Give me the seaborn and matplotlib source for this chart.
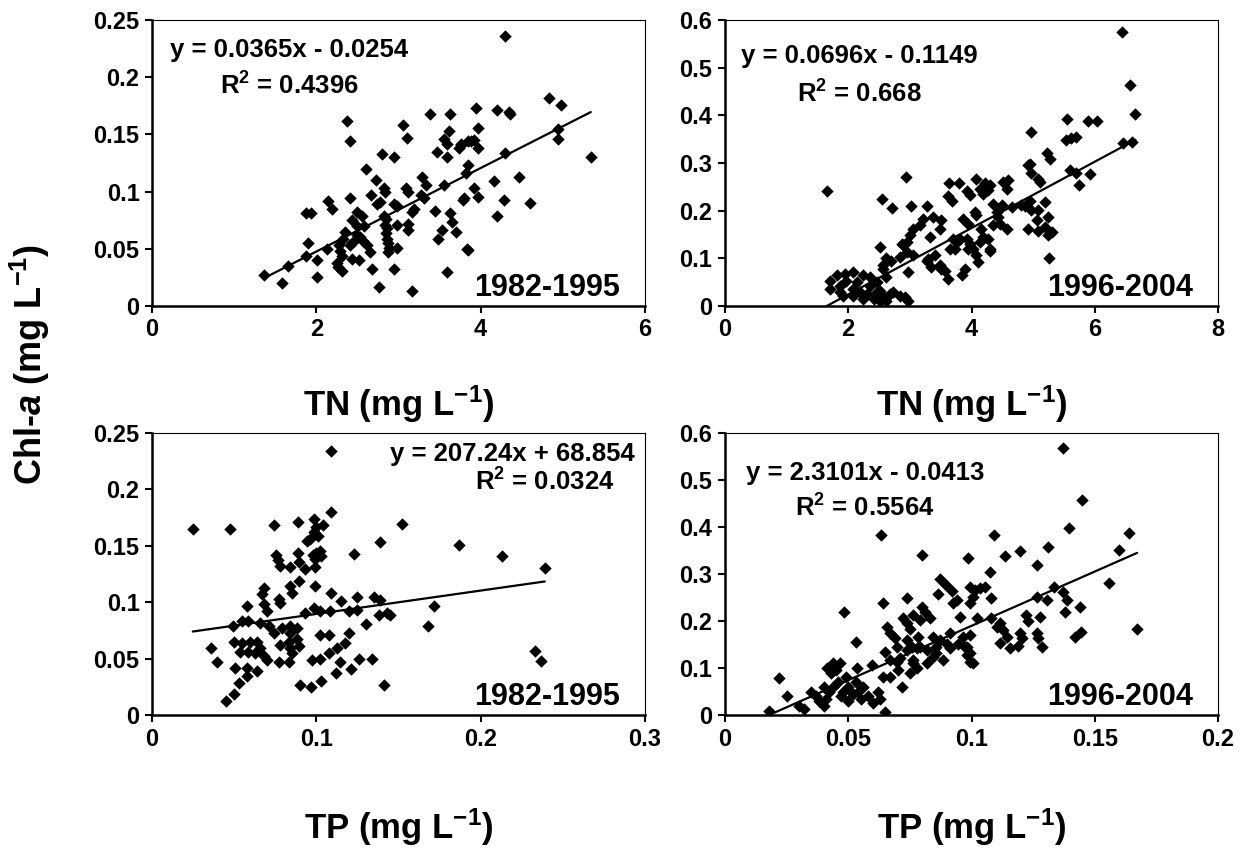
import numpy as np
import matplotlib
matplotlib.use("Agg")
import matplotlib.pyplot as plt
from matplotlib.ticker import FuncFormatter, MultipleLocator
import seaborn as sns

# TN vs Chl-a, 1982-1995
tn_8295 = [2.37, 2.41, 3.38, 3.63, 3.05, 3.10, 3.61, 3.55, 3.59, 3.47, 3.59, 3.76, 3.84, 2.80, 2.95,
           2.61, 2.73, 3.28, 3.33, 3.55, 3.82, 2.82, 2.84, 2.66, 3.09, 3.11, 3.27, 3.31, 2.74, 2.78,
           2.94, 2.98, 2.41, 2.14, 2.19, 1.87, 1.94, 2.50, 2.56, 2.82, 2.85, 2.83, 2.86, 2.85, 2.86,
           2.87, 2.88, 2.87, 3.45, 3.63, 3.65, 3.70, 3.53, 3.48, 3.80, 3.83, 2.98, 3.11, 3.11, 3.17,
           3.19, 2.44, 2.49, 2.58, 2.49, 2.53, 2.57, 2.62, 2.65, 2.45, 2.41, 2.35, 2.33, 2.27, 2.29,
           2.31, 2.13, 1.90, 2.01, 2.25, 2.26, 2.31, 2.44, 2.52, 2.98, 2.68, 2.94, 2.76, 3.16, 3.59,
           1.36, 1.58, 1.66, 1.87, 2.01, 4.30, 4.83, 4.98, 5.34, 4.94, 4.94, 4.20, 4.35, 4.36, 3.94,
           3.97, 3.76, 3.74, 3.88, 3.92, 3.97, 4.30, 4.47, 4.16, 3.84, 3.92, 3.97, 3.78, 4.29, 4.60,
           4.20, 3.84]
chl_tn_8295 = [0.162, 0.144, 0.168, 0.168, 0.158, 0.147, 0.153, 0.146, 0.142, 0.135, 0.130, 0.141, 0.144, 0.133, 0.130,
               0.120, 0.110, 0.113, 0.106, 0.106, 0.116, 0.103, 0.100, 0.097, 0.103, 0.100, 0.097, 0.094, 0.089, 0.091,
               0.089, 0.087, 0.094, 0.092, 0.085, 0.081, 0.081, 0.082, 0.079, 0.079, 0.076, 0.071, 0.068, 0.064, 0.059,
               0.055, 0.051, 0.047, 0.083, 0.081, 0.073, 0.065, 0.066, 0.059, 0.094, 0.050, 0.071, 0.072, 0.066, 0.082,
               0.085, 0.075, 0.070, 0.070, 0.062, 0.060, 0.057, 0.053, 0.047, 0.056, 0.053, 0.065, 0.059, 0.053, 0.048,
               0.044, 0.050, 0.055, 0.040, 0.038, 0.034, 0.031, 0.041, 0.040, 0.051, 0.032, 0.032, 0.017, 0.013, 0.030,
               0.027, 0.020, 0.035, 0.044, 0.025, 0.236, 0.182, 0.176, 0.130, 0.155, 0.146, 0.171, 0.170, 0.168, 0.173,
               0.156, 0.142, 0.138, 0.144, 0.145, 0.138, 0.134, 0.113, 0.109, 0.123, 0.103, 0.095, 0.093, 0.093, 0.090,
               0.079, 0.049]

# TN vs Chl-a, 1996-2004
tn_9604 = [1.65, 2.93, 2.54, 2.71, 3.02, 3.28, 3.64, 3.80, 3.92, 3.62, 3.68, 3.38, 3.22, 3.16, 3.05,
           3.00, 2.95, 3.51, 3.49, 3.33, 3.87, 3.65, 3.76, 3.81, 3.41, 3.27, 3.35, 3.51, 3.62, 3.84,
           2.51, 2.88, 2.62, 2.70, 2.84, 2.97, 2.62, 2.57,
           1.70, 1.81, 1.95, 2.08, 1.97, 2.14, 2.24, 2.35, 2.46, 2.08, 2.19, 2.30, 2.46, 2.57, 2.73,
           2.84, 2.92, 2.97, 2.62, 2.41, 2.24, 1.87, 1.70, 2.35, 1.87, 2.51, 2.68, 2.51, 2.08, 1.92,
           4.08, 4.22, 4.30, 4.51, 4.60, 4.57, 3.97, 4.14, 4.19, 4.27, 4.92, 4.35, 4.49, 4.65, 4.81,
           4.92, 4.06, 4.08, 3.95, 4.41, 4.43, 4.46, 4.35, 4.57, 4.16, 4.19, 4.14, 3.92, 3.97, 3.95,
           4.03, 4.08, 4.11, 4.30, 3.89, 3.70, 3.73, 3.57, 3.49, 3.30, 2.89, 2.95, 3.05, 2.57,
           6.44, 6.57, 6.66, 6.46, 6.60, 5.55, 5.89, 6.03, 5.54, 5.62, 5.70, 4.96, 5.23, 5.27, 4.95,
           4.97, 5.11, 5.08, 5.60, 5.70, 5.92, 5.75, 4.95, 4.87, 4.97, 5.08, 5.19, 5.24, 5.06, 5.08,
           5.19, 5.24, 5.30, 5.26, 4.27, 4.30]
chl_tn_9604 = [0.241, 0.271, 0.224, 0.206, 0.210, 0.210, 0.257, 0.259, 0.241, 0.231, 0.220, 0.187, 0.183, 0.169, 0.162,
               0.148, 0.134, 0.180, 0.162, 0.145, 0.182, 0.120, 0.134, 0.141, 0.106, 0.095, 0.081, 0.078, 0.057, 0.064,
               0.124, 0.131, 0.100, 0.095, 0.102, 0.071, 0.060, 0.078,
               0.053, 0.064, 0.067, 0.071, 0.053, 0.050, 0.064, 0.043, 0.050, 0.036, 0.029, 0.025, 0.029, 0.022, 0.029,
               0.022, 0.018, 0.011, 0.011, 0.015, 0.015, 0.029, 0.036, 0.060, 0.043, 0.032, 0.025, 0.011, 0.022, 0.022,
               0.267, 0.257, 0.253, 0.260, 0.264, 0.246, 0.232, 0.246, 0.236, 0.243, 0.295, 0.215, 0.211, 0.208, 0.211,
               0.162, 0.197, 0.190, 0.173, 0.197, 0.187, 0.173, 0.169, 0.162, 0.162, 0.145, 0.134, 0.141, 0.131, 0.120,
               0.120, 0.106, 0.092, 0.116, 0.078, 0.141, 0.120, 0.074, 0.085, 0.099, 0.127, 0.113, 0.106, 0.085,
               0.575, 0.463, 0.402, 0.341, 0.345, 0.392, 0.388, 0.388, 0.348, 0.353, 0.355, 0.364, 0.322, 0.309, 0.297,
               0.278, 0.260, 0.267, 0.285, 0.280, 0.276, 0.253, 0.220, 0.210, 0.201, 0.201, 0.218, 0.187, 0.180, 0.158,
               0.166, 0.148, 0.155, 0.100, 0.141, 0.120]

# TP vs Chl-a, 1982-1995
tp_8295 = [0.109, 0.0248, 0.0476, 0.074, 0.0886, 0.0988, 0.100, 0.0988, 0.104, 0.101, 0.109, 0.0943, 0.0963, 0.139, 0.123,
           0.098, 0.100, 0.102, 0.103, 0.099, 0.0886, 0.0892, 0.0756, 0.0764, 0.0776, 0.0841, 0.0933, 0.0994, 0.0892, 0.0841,
           0.0852, 0.0683, 0.0669, 0.099, 0.109, 0.115, 0.125, 0.135, 0.139, 0.077, 0.0776, 0.058, 0.0679, 0.070, 0.0933,
           0.0984, 0.102, 0.1085, 0.1197, 0.125, 0.138, 0.143, 0.049, 0.0547, 0.0587, 0.0659, 0.071, 0.074, 0.079, 0.084,
           0.088, 0.130, 0.0496, 0.0547, 0.0598, 0.0638, 0.0659, 0.078, 0.0831, 0.0841, 0.0882, 0.0892, 0.0841, 0.0852, 0.1024,
           0.1075, 0.1197, 0.1177, 0.1126, 0.1075, 0.0358, 0.0537, 0.0587, 0.0628, 0.0679, 0.070, 0.0394, 0.0974, 0.1024, 0.1146,
           0.1258, 0.134, 0.077, 0.0831, 0.0506, 0.0577, 0.152, 0.187, 0.213, 0.239, 0.1715, 0.168, 0.233, 0.237, 0.145,
           0.045, 0.050, 0.053, 0.058, 0.064, 0.090, 0.097, 0.103, 0.112, 0.121, 0.141]
chl_tp_8295 = [0.234, 0.165, 0.165, 0.168, 0.171, 0.174, 0.167, 0.162, 0.168, 0.159, 0.180, 0.154, 0.156, 0.153, 0.143,
               0.142, 0.144, 0.145, 0.141, 0.138, 0.144, 0.136, 0.142, 0.137, 0.132, 0.131, 0.129, 0.131, 0.119, 0.114,
               0.108, 0.113, 0.107, 0.114, 0.108, 0.101, 0.105, 0.105, 0.102, 0.103, 0.099, 0.097, 0.098, 0.092, 0.090,
               0.095, 0.092, 0.092, 0.092, 0.093, 0.089, 0.090, 0.079, 0.083, 0.083, 0.082, 0.079, 0.073, 0.077, 0.079,
               0.077, 0.081, 0.065, 0.064, 0.065, 0.065, 0.059, 0.062, 0.065, 0.073, 0.067, 0.061, 0.059, 0.055, 0.071,
               0.071, 0.073, 0.064, 0.059, 0.055, 0.059, 0.056, 0.056, 0.055, 0.052, 0.049, 0.047, 0.049, 0.050, 0.047,
               0.050, 0.050, 0.047, 0.047, 0.042, 0.042, 0.169, 0.151, 0.141, 0.130, 0.097, 0.079, 0.057, 0.048, 0.089,
               0.012, 0.019, 0.028, 0.035, 0.039, 0.027, 0.025, 0.030, 0.037, 0.041, 0.027]

# TP vs Chl-a, 1996-2004
tp_9604 = [0.0633, 0.080, 0.0987, 0.0484, 0.0642, 0.0737, 0.0872, 0.0896, 0.0919, 0.0865, 0.0798, 0.0811, 0.0764, 0.0791, 0.0831,
           0.0723, 0.0737, 0.075, 0.0926, 0.094, 0.0953, 0.0531, 0.0656, 0.0669, 0.0689, 0.0649, 0.0737, 0.0757, 0.0784, 0.0791,
           0.0845, 0.0872, 0.0858, 0.0885, 0.0912, 0.0946, 0.0973, 0.0912, 0.0595, 0.0669, 0.071, 0.0764, 0.0412, 0.0439, 0.0534,
           0.137, 0.1448, 0.1395, 0.164, 0.160, 0.1309, 0.1196, 0.1135, 0.1092, 0.1077, 0.1264, 0.1557, 0.1336, 0.1372, 0.1386,
           0.1379, 0.144, 0.1264, 0.1307, 0.0994, 0.1014, 0.1034, 0.1054, 0.1007, 0.0994, 0.1081, 0.1021, 0.1081, 0.1223, 0.123,
           0.1277, 0.1115, 0.1102, 0.1129, 0.1142, 0.1115, 0.1156, 0.119, 0.1196, 0.1203, 0.1264, 0.1271, 0.1284, 0.1419, 0.1446,
           0.1672, 0.0966, 0.0994, 0.098, 0.0994, 0.1007, 0.0696, 0.0737, 0.0777, 0.0818, 0.0858, 0.0899, 0.0845, 0.098, 0.0994,
           0.0696, 0.0764, 0.0818, 0.0439, 0.0466,
           0.018, 0.022, 0.025, 0.030, 0.032, 0.035, 0.037, 0.038, 0.040, 0.040, 0.042, 0.043, 0.045, 0.046, 0.047,
           0.048, 0.050, 0.050, 0.052, 0.053, 0.054, 0.055, 0.056, 0.058, 0.060, 0.062, 0.063, 0.064, 0.065, 0.067,
           0.070, 0.072, 0.075, 0.078, 0.044, 0.049, 0.041]
chl_tp_9604 = [0.383, 0.340, 0.335, 0.220, 0.238, 0.248, 0.289, 0.277, 0.264, 0.257, 0.230, 0.220, 0.213, 0.202, 0.206,
               0.206, 0.195, 0.184, 0.238, 0.245, 0.208, 0.156, 0.188, 0.174, 0.163, 0.135, 0.160, 0.145, 0.167, 0.145,
               0.167, 0.160, 0.131, 0.117, 0.142, 0.152, 0.145, 0.174, 0.106, 0.117, 0.121, 0.110, 0.099, 0.103, 0.099,
               0.569, 0.457, 0.398, 0.387, 0.351, 0.358, 0.350, 0.338, 0.384, 0.305, 0.319, 0.280, 0.273, 0.262, 0.245,
               0.220, 0.229, 0.252, 0.245, 0.273, 0.266, 0.270, 0.273, 0.252, 0.238, 0.250, 0.206, 0.206, 0.213, 0.199,
               0.209, 0.195, 0.188, 0.181, 0.167, 0.153, 0.142, 0.147, 0.174, 0.163, 0.174, 0.163, 0.145, 0.167, 0.177,
               0.184, 0.167, 0.170, 0.145, 0.131, 0.110, 0.145, 0.138, 0.142, 0.138, 0.145, 0.152, 0.124, 0.128, 0.113,
               0.113, 0.117, 0.110, 0.110, 0.110,
               0.008, 0.078, 0.040, 0.020, 0.012, 0.050, 0.040, 0.030, 0.060, 0.020, 0.050, 0.090, 0.095, 0.070, 0.040,
               0.050, 0.060, 0.030, 0.045, 0.070, 0.050, 0.035, 0.060, 0.040, 0.025, 0.050, 0.035, 0.080, 0.007, 0.080,
               0.095, 0.060, 0.090, 0.100, 0.060, 0.080, 0.035]

# trend lines (slope, intercept) in mg L-1 units, and the printed labels
fits = [(0.0365, -0.0254), (0.0696, -0.1149), (0.20724, 0.068854), (2.3101, -0.0413)]
equations = ["y = 0.0365x - 0.0254", "y = 0.0696x - 0.1149", "y = 207.24x + 68.854", "y = 2.3101x - 0.0413"]
r2_labels = ["0.4396", "0.668", "0.0324", "0.5564"]
periods = ["1982-1995", "1996-2004", "1982-1995", "1996-2004"]

sns.set_style("ticks")
plt.rcParams['font.family'] = ['Liberation Sans', 'DejaVu Sans']
plt.rcParams['font.weight'] = 'bold'
plt.rcParams['mathtext.fontset'] = 'custom'
plt.rcParams['mathtext.rm'] = 'Liberation Sans:bold'
plt.rcParams['mathtext.bf'] = 'Liberation Sans:bold'
plt.rcParams['mathtext.it'] = 'Liberation Sans:bold:italic'
plt.rcParams['mathtext.default'] = 'bf'
for key in ['text.color', 'axes.labelcolor', 'xtick.color', 'ytick.color', 'axes.edgecolor']:
    plt.rcParams[key] = 'black'

fig = plt.figure(figsize=(12.53, 8.51), dpi=100)
W, H = 1253, 851
def box(l, t, r, b):
    return [l / W, 1 - b / H, (r - l) / W, (b - t) / H]

axes = [fig.add_axes(box(152, 20, 645, 306)),
        fig.add_axes(box(725, 20, 1218, 306)),
        fig.add_axes(box(152, 433, 645, 715)),
        fig.add_axes(box(725, 433, 1218, 715))]

xs_all = [tn_8295, tn_9604, tp_8295, tp_9604]
ys_all = [chl_tn_8295, chl_tn_9604, chl_tp_8295, chl_tp_9604]
xlims = [(0, 6, 2), (0, 8, 2), (0, 0.3, 0.1), (0, 0.2, 0.05)]
ylims = [(0, 0.25, 0.05), (0, 0.6, 0.1), (0, 0.25, 0.05), (0, 0.6, 0.1)]
xlabels = ["TN (mg L$^{-1}$)", "TN (mg L$^{-1}$)", "TP (mg L$^{-1}$)", "TP (mg L$^{-1}$)"]
label_pads = [30, 30, 40, 40]
eq_pos = [(0.278, 0.895, 0.769), (0.272, 0.875, 0.740),
          (0.730, 0.926, 0.826), (0.284, 0.858, 0.734)]

fmt = FuncFormatter(lambda v, p: f"{round(v, 4):g}")

for i, ax in enumerate(axes):
    x = np.array(xs_all[i])
    y = np.array(ys_all[i])
    sns.scatterplot(x=x, y=y, ax=ax, marker='D', color='black', s=40, linewidth=0)
    slope, icpt = fits[i]
    xl = np.array([x.min(), x.max()])
    ax.plot(xl, slope * xl + icpt, color='black', lw=1.6)

    ax.set_xlim(xlims[i][0], xlims[i][1])
    ax.set_ylim(ylims[i][0], ylims[i][1])
    ax.xaxis.set_major_locator(MultipleLocator(xlims[i][2]))
    ax.yaxis.set_major_locator(MultipleLocator(ylims[i][2]))
    ax.xaxis.set_major_formatter(fmt)
    ax.yaxis.set_major_formatter(fmt)
    ax.tick_params(direction='out', length=5, width=1.5, labelsize=17, pad=4)
    for side in ['left', 'bottom']:
        ax.spines[side].set_linewidth(1.8)
    for side in ['top', 'right']:
        ax.spines[side].set_linewidth(0.8)
    ax.set_ylabel("")
    ax.set_xlabel(xlabels[i], fontsize=25, fontweight='bold', labelpad=label_pads[i])

    ex, ey, ry = eq_pos[i]
    ax.text(ex, ey, equations[i], transform=ax.transAxes, ha='center', va='center', fontsize=18.5)
    rx = ex + 0.067 if i == 2 else ex
    ax.text(rx, ry, "R$^{2}$ = " + r2_labels[i], transform=ax.transAxes, ha='center', va='center', fontsize=18.5)
    ax.text(0.95, 0.01, periods[i], transform=ax.transAxes, ha='right', va='bottom', fontsize=22)

fig.text(0.024, 0.572, "Chl-$\\mathit{a}$ (mg L$^{-1}$)", rotation=90, ha='center', va='center', fontsize=26)

fig.savefig("out.png", dpi=100)
